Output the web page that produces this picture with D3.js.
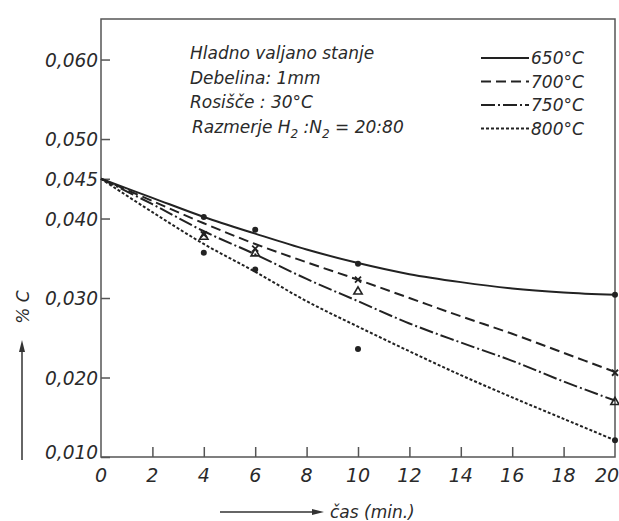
<!DOCTYPE html>
<html lang="sl">
<head>
<meta charset="utf-8">
<title>% C - cas</title>
<script src="https://d3js.org/d3.v7.min.js"></script>
<style>
body { margin: 0; background: #fff; }
text { font-family: "DejaVu Sans", sans-serif; font-style: italic; fill: #2a2a2a; }
.frame { fill: none; stroke: #555; stroke-width: 1.5px; }
.curve { fill: none; stroke: #222; stroke-width: 2px; }
</style>
</head>
<body>
<svg width="619" height="521"></svg>
<script>
// time axis (min.)
var xTicks = [0, 2, 4, 6, 8, 10, 12, 14, 16, 18, 20];
var yTicks = [0.010, 0.020, 0.030, 0.040, 0.045, 0.050, 0.060];
var yTickLabels = ["0,010", "0,020", "0,030", "0,040", "0,045", "0,050", "0,060"];

// fitted curves, read at x = 0,2,...,20
var curveX = [0, 2, 4, 6, 8, 10, 12, 14, 16, 18, 20];
var c650 = [0.0450, 0.0426, 0.0402, 0.0381, 0.0361, 0.0344, 0.0330, 0.0320, 0.0312, 0.0307, 0.0304];
var c700 = [0.0450, 0.0422, 0.0394, 0.0368, 0.0345, 0.0323, 0.0300, 0.0277, 0.0255, 0.0231, 0.0207];
var c750 = [0.0450, 0.0418, 0.0384, 0.0355, 0.0324, 0.0296, 0.0268, 0.0244, 0.0221, 0.0195, 0.0171];
var c800 = [0.0450, 0.0408, 0.0368, 0.0333, 0.0296, 0.0264, 0.0233, 0.0203, 0.0175, 0.0148, 0.0121];

// measured points
var pX = [4, 6, 10, 20];
var p650 = [0.0402, 0.0386, 0.0343, 0.0304];
var p700 = [0.0380, 0.0362, 0.0323, 0.0206];
var p750 = [0.0377, 0.0356, 0.0308, 0.0169];
var p800 = [0.0357, 0.0336, 0.0236, 0.0121];

var seriesNames = ["650°C", "700°C", "750°C", "800°C"];
var dashes = ["none", "10,5", "14,3,2,3", "3,2"];
var markers = ["dot", "cross", "tri", "dot"];
var curves = [c650, c700, c750, c800];
var points = [p650, p700, p750, p800];

var infoLines = ["Hladno valjano stanje", "Debelina: 1mm", "Rosišče : 30°C"];

var svg = d3.select("svg");

var x = d3.scaleLinear().domain([0, 20]).range([101, 615]);
var y = d3.scaleLinear().domain([0.010, 0.0651]).range([457, 19]);

// frame
svg.append("rect").attr("class", "frame")
  .attr("x", x(0)).attr("y", y(0.0651))
  .attr("width", x(20) - x(0)).attr("height", y(0.010) - y(0.0651));

// y axis ticks (inside)
var yAxis = svg.append("g").attr("transform", "translate(" + x(0) + ",0)")
  .call(d3.axisRight(y).tickValues(yTicks).tickSize(9).tickFormat(""));
yAxis.select(".domain").remove();
yAxis.selectAll("line").attr("stroke", "#555").attr("stroke-width", 1.5);
svg.selectAll(".ylab").data(yTicks).enter().append("text")
  .attr("x", 98).attr("y", function(d) { return y(d) + (d == 0.010 ? 2 : 7); })
  .attr("text-anchor", "end").attr("font-size", 19)
  .attr("textLength", 53).attr("lengthAdjust", "spacingAndGlyphs")
  .text(function(d, i) { return yTickLabels[i]; });

// x axis ticks (inside)
var xAxis = svg.append("g").attr("transform", "translate(0," + y(0.010) + ")")
  .call(d3.axisTop(x).tickValues(xTicks.slice(1, 10)).tickSize(10).tickFormat(""));
xAxis.select(".domain").remove();
xAxis.selectAll("line").attr("stroke", "#555").attr("stroke-width", 1.5);
svg.selectAll(".xlab").data(xTicks).enter().append("text")
  .attr("x", function(d) { return x(d) + (d == 20 ? -8 : 0); })
  .attr("y", 482).attr("text-anchor", "middle").attr("font-size", 19)
  .text(function(d) { return d; });

// curves
var line = d3.line()
  .x(function(d) { return x(d[0]); })
  .y(function(d) { return y(d[1]); })
  .curve(d3.curveCatmullRom.alpha(0.5));

curves.forEach(function(c, i) {
  svg.append("path").attr("class", "curve")
    .attr("d", line(curveX.map(function(t, j) { return [t, c[j]]; })))
    .attr("stroke-dasharray", dashes[i]);
});

// markers
points.forEach(function(p, i) {
  p.forEach(function(v, j) {
    var cx = x(pX[j]), cy = y(v);
    if (markers[i] == "dot") {
      svg.append("circle").attr("cx", cx).attr("cy", cy).attr("r", 3).attr("fill", "#222");
    } else if (markers[i] == "cross") {
      svg.append("path").attr("d", "M" + (cx - 3) + "," + (cy - 3) + "L" + (cx + 3) + "," + (cy + 3) +
          "M" + (cx + 3) + "," + (cy - 3) + "L" + (cx - 3) + "," + (cy + 3))
        .attr("stroke", "#222").attr("stroke-width", 1.8);
    } else {
      svg.append("path").attr("d", d3.symbol().type(d3.symbolTriangle).size(30)())
        .attr("transform", "translate(" + cx + "," + cy + ")")
        .attr("fill", "none").attr("stroke", "#222").attr("stroke-width", 1.6);
    }
  });
});

// info text
infoLines.forEach(function(t, i) {
  svg.append("text").attr("x", 190).attr("y", 59 + i * 24.5)
    .attr("font-size", 17).text(t);
});
var rz = svg.append("text").attr("x", 192).attr("y", 133).attr("font-size", 17);
rz.append("tspan").text("Razmerje H");
rz.append("tspan").attr("font-size", 12).attr("dy", 5).text("2");
rz.append("tspan").attr("dy", -5).text(" :N");
rz.append("tspan").attr("font-size", 12).attr("dy", 5).text("2");
rz.append("tspan").attr("dy", -5).text(" = 20:80");

// legend
seriesNames.forEach(function(n, i) {
  var ly = 58 + i * 23.5;
  svg.append("line").attr("x1", 481).attr("x2", 529).attr("y1", ly).attr("y2", ly)
    .attr("stroke", "#222").attr("stroke-width", 1.8).attr("stroke-dasharray", dashes[i]);
  svg.append("text").attr("x", 531).attr("y", ly + 6).attr("font-size", 17).text(n);
});

// axis titles with arrows
svg.append("text").attr("transform", "translate(29,307) rotate(-90)")
  .attr("text-anchor", "middle").attr("font-size", 17).text("% C");
svg.append("line").attr("x1", 22).attr("x2", 22).attr("y1", 460).attr("y2", 348)
  .attr("stroke", "#333").attr("stroke-width", 1.5);
svg.append("path").attr("d", "M22,340 L19,352 L25,352 Z").attr("fill", "#333");

svg.append("line").attr("x1", 220).attr("x2", 314).attr("y1", 512).attr("y2", 512)
  .attr("stroke", "#333").attr("stroke-width", 1.5);
svg.append("path").attr("d", "M324,512 L312,509 L312,515 Z").attr("fill", "#333");
svg.append("text").attr("x", 330).attr("y", 518).attr("font-size", 17).text("čas  (min.)");
</script>
</body>
</html>
